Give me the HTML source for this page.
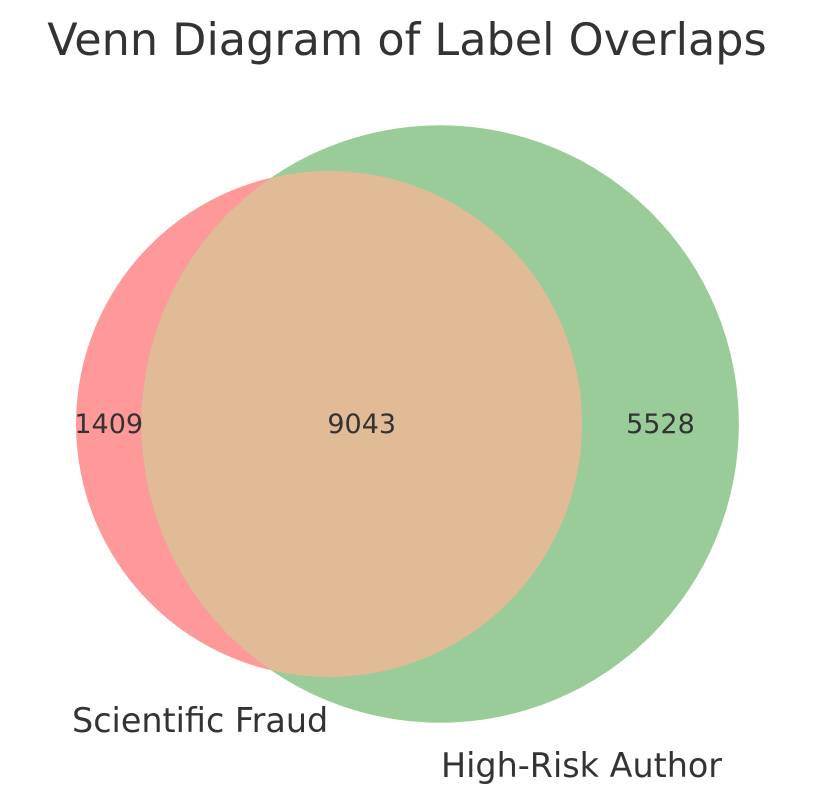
<!DOCTYPE html>
<html><head><meta charset="utf-8"><style>
html,body{margin:0;padding:0;background:#fff;}
svg{display:block;font-family:"DejaVu Sans","Liberation Sans",sans-serif;}
</style></head><body>
<svg id="chart" width="814" height="804" viewBox="0 0 814 804">
<text x="407" y="55" text-anchor="middle" font-size="44.5" fill="#333">Venn Diagram of Label Overlaps</text>
<g id="venn"></g>
</svg>
<script>
const setNames = ["Scientific Fraud", "High-Risk Author"];
const regionCounts = [1409, 5528, 9043]; // only A, only B, A∩B
const NS = "http://www.w3.org/2000/svg";
const g = document.getElementById('venn');
const sizeA = regionCounts[0] + regionCounts[2];
const sizeB = regionCounts[1] + regionCounts[2];
const k = 253 / Math.sqrt(10452);
const rA = k * Math.sqrt(sizeA), rB = k * Math.sqrt(sizeB);
const cy = 424, cxA = 329, cxB = cxA + 111 * (rA + rB) / 551;
function mk(tag, attrs){const e=document.createElementNS(NS,tag);for(const a in attrs)e.setAttribute(a,attrs[a]);return e;}
const defs = mk('defs',{});
const cp = mk('clipPath',{id:'clipA'});
cp.appendChild(mk('circle',{cx:cxA,cy:cy,r:rA}));
defs.appendChild(cp); g.appendChild(defs);
const cA = mk('circle',{cx:cxA,cy:cy,r:rA,fill:'#ff9898'});


g.appendChild(cA);
const cB = mk('circle',{cx:cxB,cy:cy,r:rB,fill:'#9acc99'});


g.appendChild(cB);
const ov = mk('circle',{cx:cxB,cy:cy,r:rB,fill:'#e0bb96','clip-path':'url(#clipA)'});


g.appendChild(ov);
const xs = [(cxA - rA + (cxB - rB)) / 2, (cxA + rA + cxB + rB) / 2, ((cxB - rB) + (cxA + rA)) / 2];
const names = ['count-only-fraud','count-only-author','count-overlap'];
regionCounts.forEach((v,i)=>{
  const t = mk('text',{x:xs[i],y:cy+9,'text-anchor':'middle','font-size':'27',fill:'#333'});
  t.textContent = v;
  
  
  g.appendChild(t);
});
const l1 = mk('text',{x:72,y:732,'font-size':'33.4',fill:'#333'});
l1.textContent = setNames[0];


g.appendChild(l1);
const l2 = mk('text',{x:441,y:777,'font-size':'33.4',fill:'#333'});
l2.textContent = setNames[1];


g.appendChild(l2);
</script>
</body></html>
